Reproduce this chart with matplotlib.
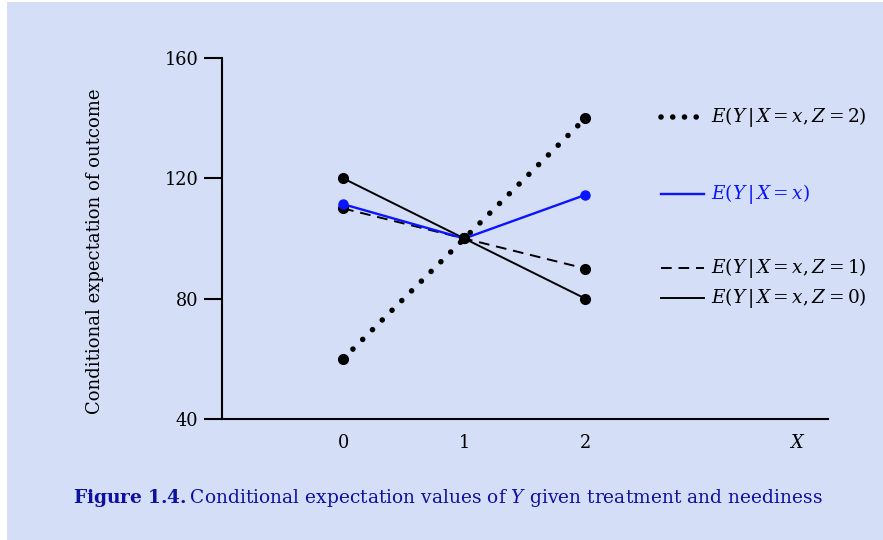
import matplotlib
matplotlib.use("Agg")
import matplotlib.pyplot as plt
from matplotlib.patches import Rectangle

plt.rcParams['font.family'] = ['DejaVu Serif']
plt.rcParams['mathtext.fontset'] = 'dejavuserif'

x_vals = [0, 1, 2]
y_z2 = [60, 100, 140]
y_z1 = [110, 100, 90]
y_z0 = [120, 100, 80]
y_marg = [111.4, 100, 114.5]

labels = [r"$E(Y\,|\,X=x, Z=2)$",
          r"$E(Y\,|\,X=x)$",
          r"$E(Y\,|\,X=x, Z=1)$",
          r"$E(Y\,|\,X=x, Z=0)$"]
label_y = [140.4, 114.8, 90.2, 80.2]

yticks = [40, 80, 120, 160]
xticks = [0, 1, 2]

bg = '#d4def7'
navy = '#1010a0'
blue = '#0a14ff'

fig = plt.figure(figsize=(8.83, 5.40), dpi=100)
fig.patch.set_facecolor('white')
fig.patches.append(Rectangle((7/883, 0), 1 - 7/883, 1 - 2/540, transform=fig.transFigure,
                             facecolor=bg, edgecolor='none', zorder=-10))

ax = fig.add_axes([222/883, 1 - 419/540, (827.7 - 222)/883, (419 - 58)/540])
ax.set_facecolor('none')
ax.set_xlim(-1, 4)
ax.set_ylim(40, 160)
for s in ['top', 'right']:
    ax.spines[s].set_visible(False)
for s in ['left', 'bottom']:
    ax.spines[s].set_linewidth(1.5)

fs = 12.8
ax.set_yticks(yticks)
ax.set_yticklabels([str(v) for v in yticks])
ax.tick_params(axis='y', length=13, width=1.5, labelsize=fs, pad=4)
ax.set_xticks(xticks + [3.75])
ax.set_xticklabels([str(v) for v in xticks] + [r"$X$"])
ax.tick_params(axis='x', length=0, labelsize=fs, pad=11)

ax.set_ylabel("Conditional expectation of outcome", fontsize=13)
ax.yaxis.set_label_coords((104 - 222) / (827.7 - 222), (419 - 251) / 361)

lw = 1.4
dot_style = dict(color='black', lw=4.0, linestyle=(0, (0.01, 2.47)), dash_capstyle='round')
dash_style = dict(color='black', lw=lw, linestyle=(0, (5.5, 3.5)))
ax.plot(x_vals, y_z2, zorder=3, **dot_style)
ax.plot(x_vals, y_z1, zorder=3, **dash_style)
ax.plot(x_vals, y_z0, color='black', lw=lw, zorder=3)
ax.plot(x_vals, y_marg, color=blue, lw=1.7, zorder=4)

ax.plot(x_vals, y_z2, 'o', color='black', ms=7, zorder=5)
ax.plot(x_vals, y_z1, 'o', color='black', ms=7, zorder=5)
ax.plot(x_vals, y_z0, 'o', color='black', ms=7, zorder=5)
ax.plot([0, 2], [y_marg[0], y_marg[2]], 'o', color=blue, ms=6.5, zorder=6)

# legend
lx0, lx1, tx = 2.62, 2.98, 3.04
styles = [dict(color='black', lw=4.0, linestyle=(0, (0.01, 2.1)), dash_capstyle='round'),
          dict(color=blue, lw=1.7),
          dash_style,
          dict(color='black', lw=lw)]
tcolors = ['black', blue, 'black', 'black']
for lab, yy, st, tc in zip(labels, label_y, styles, tcolors):
    ax.plot([lx0, lx1], [yy, yy], clip_on=False, **st)
    ax.text(tx, yy, lab, fontsize=13.3, color=tc, va='center', ha='left', clip_on=False)

fig.text(73/883, 1 - 498/540,
         r"$\mathbf{Figure\ 1.4.}$Conditional expectation values of $Y$ given treatment and neediness",
         fontsize=13.4, color=navy, ha='left', va='center')

fig.savefig("out.png", dpi=100)
